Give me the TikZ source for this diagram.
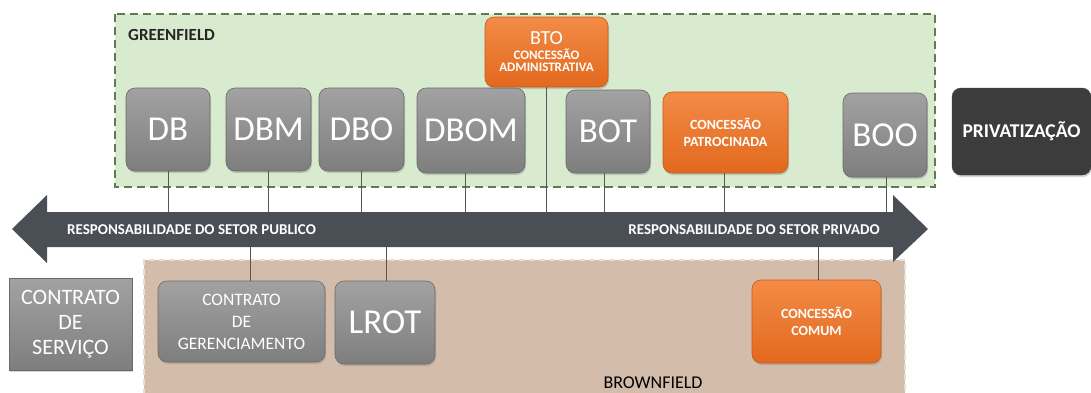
\documentclass[tikz,border=0pt]{standalone}
\usepackage{fontspec}
\setmainfont{Carlito}
\usetikzlibrary{shadows}
\definecolor{gfill}{HTML}{D8EBCF}
\definecolor{gline}{HTML}{5E7D4F}
\definecolor{bfill}{HTML}{D3BCAA}
\definecolor{bline}{HTML}{E9DED4}
\definecolor{arrowc}{HTML}{4A4E55}
\definecolor{gtop}{HTML}{A2A2A2}
\definecolor{gbot}{HTML}{7E7E7E}
\definecolor{gdraw}{HTML}{6A6A6A}
\definecolor{otop}{HTML}{F38B46}
\definecolor{obot}{HTML}{E2691E}
\definecolor{odraw}{HTML}{C65A18}
\definecolor{privc}{HTML}{3C3C3C}
\definecolor{connc}{HTML}{555555}
\tikzset{
  box/.style={rounded corners=9pt, inner sep=0pt, align=center, text=white,
    drop shadow={shadow xshift=1pt, shadow yshift=-2pt, opacity=0.35}},
  graybox/.style={box, top color=gtop, bottom color=gbot, draw=gdraw, line width=0.6pt},
  orangebox/.style={box, top color=otop, bottom color=obot, draw=odraw, line width=0.6pt},
  darkbox/.style={box, fill=privc, draw=privc},
  big/.style={font=\fontsize{35}{40}\selectfont},
  small/.style={font=\fontsize{14}{17}\selectfont\bfseries},
  conn/.style={draw=connc, line width=0.7pt},
  lbl/.style={inner sep=0pt, font=\fontsize{15}{18}\selectfont\bfseries, text=white}
}
\begin{document}
\begin{tikzpicture}[x=1pt, y=-1pt]
\useasboundingbox (0,0) rectangle (1091,392);
% regions
\fill[bfill] (144,260) rectangle (905,395);
\draw[bline, line width=1.5pt, dash pattern=on 6pt off 4pt] (144,395) -- (144,260) -- (905,260) -- (905,395);
\draw[gline, fill=gfill, line width=1.5pt, dash pattern=on 8pt off 5pt] (115,14) rectangle (935,187);
\node[anchor=west, inner sep=0pt, font=\fontsize{17}{20}\selectfont\bfseries, text=black!85] (gf) at (128,35) {GREENFIELD};
\node[inner sep=0pt, font=\fontsize{18}{20}\selectfont, text=black] (bf) at (653,383) {BROWNFIELD};
% arrow
\fill[arrowc] (12,229) -- (47,195) -- (47,212) -- (893,212) -- (893,195) -- (928,229) -- (893,262) -- (893,247) -- (47,247) -- (47,263) -- cycle;
\coordinate (bartop) at (0,212);
\coordinate (barbot) at (0,247);
\node[lbl, anchor=west] (pub) at (67,229.5) {RESPONSABILIDADE DO SETOR PUBLICO};
\node[lbl, anchor=east] (priv) at (880,229.5) {RESPONSABILIDADE DO SETOR PRIVADO};
% boxes (greenfield)
\node[graybox, big, minimum width=84pt, minimum height=83pt] (db) at (168,129.5) {DB};
\node[graybox, big, minimum width=85pt, minimum height=83pt] (dbm) at (268.5,129.5) {DBM};
\node[graybox, big, minimum width=85pt, minimum height=83pt] (dbo) at (361.5,129.5) {DBO};
\node[graybox, big, minimum width=108pt, minimum height=85pt] (dbom) at (471,130.5) {DBOM};
\node[orangebox, minimum width=123pt, minimum height=70pt] (bto) at (546.5,52)
  {{\fontsize{20}{22}\selectfont BTO}\\[3pt]{\fontsize{13}{16}\selectfont\bfseries CONCESSÃO}\\{\fontsize{13}{16}\selectfont\bfseries ADMINISTRATIVA}};
\node[graybox, big, minimum width=84pt, minimum height=83pt] (bot) at (608,131.5) {BOT};
\node[orangebox, small, minimum width=125pt, minimum height=81pt] (cp) at (725.5,132.5) {CONCESSÃO\\PATROCINADA};
\node[graybox, big, minimum width=84pt, minimum height=84pt] (boo) at (885,135) {BOO};
\node[darkbox, font=\fontsize{19.5}{24}\selectfont\bfseries, minimum width=139pt, minimum height=87pt] (pz) at (1021.5,131.5) {PRIVATIZAÇÃO};
% boxes (brownfield)
\node[graybox, rounded corners=0pt, font=\fontsize{22}{25}\selectfont, minimum width=123pt, minimum height=92pt] (cs) at (70.5,324) {CONTRATO\\DE\\SERVIÇO};
\node[graybox, font=\fontsize{17.5}{22}\selectfont, minimum width=167pt, minimum height=81pt] (cg) at (241.5,321.5) {CONTRATO\\DE\\GERENCIAMENTO};
\node[graybox, big, minimum width=100pt, minimum height=83pt] (lrot) at (385,322.5) {LROT};
\node[orangebox, small, minimum width=129pt, minimum height=83pt] (cc) at (816.5,321.5) {CONCESSÃO\\COMUM};
% connectors to the arrow
\draw[conn] (db.south) -- (db.south |- bartop);
\draw[conn] (dbm.south) -- (dbm.south |- bartop);
\draw[conn] (dbo.south) -- (dbo.south |- bartop);
\draw[conn] ([xshift=-6pt]dbom.south) -- ([xshift=-6pt]dbom.south |- bartop);
\draw[conn] (bto.south) -- (bto.south |- bartop);
\draw[conn] ([xshift=-4pt]bot.south) -- ([xshift=-4pt]bot.south |- bartop);
\draw[conn] ([xshift=-1.5pt]cp.south) -- ([xshift=-1.5pt]cp.south |- bartop);
\draw[conn] ([xshift=1pt]boo.south) -- ([xshift=1pt]boo.south |- bartop);
\draw[conn] ([xshift=8.5pt]cg.north) -- ([xshift=8.5pt]cg.north |- barbot);
\draw[conn] ([xshift=1pt]lrot.north) -- ([xshift=1pt]lrot.north |- barbot);
\draw[conn] ([xshift=1.5pt]cc.north) -- ([xshift=1.5pt]cc.north |- barbot);
\end{tikzpicture}
\end{document}
